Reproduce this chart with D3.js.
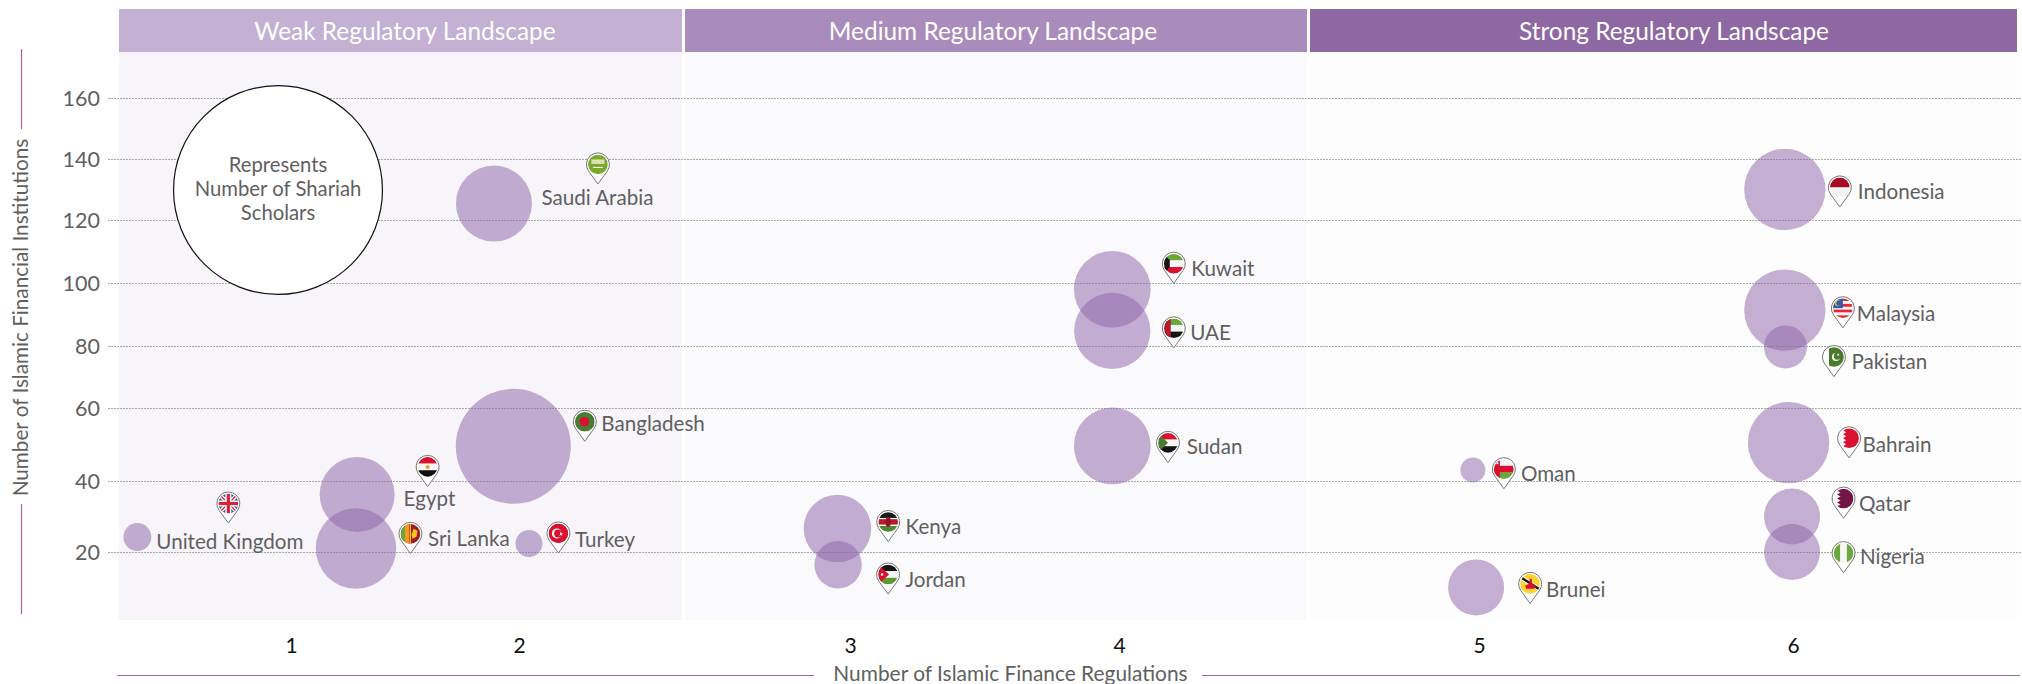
<!DOCTYPE html>
<html><head><meta charset="utf-8">
<script src="https://cdn.jsdelivr.net/npm/d3@7"></script>
<style>
html,body{margin:0;padding:0;background:#fff}
svg{display:block}
text{font-family:Lato,"Open Sans",sans-serif}
</style></head><body><svg id="c" width="2022" height="684"></svg>
<script>
// ---- data ----
const countries = ["United Kingdom","Egypt","Sri Lanka","Saudi Arabia","Bangladesh","Turkey","Kenya","Jordan","Kuwait","UAE","Sudan","Oman","Brunei","Indonesia","Malaysia","Pakistan","Bahrain","Qatar","Nigeria"];
const regulations = [0.33,1.29,1.285,1.89,1.975,2.03,2.962,2.964,3.975,3.975,3.975,4.983,4.992,5.974,5.974,5.976,5.986,5.997,5.997];
const institutions = [24.2,36.2,21,125.4,49.5,22.4,26.6,16.4,98,84.8,49.6,43,10,130,91.4,79.7,50.5,30,20];
const scholars = [5.9,42.5,49,43.7,100,5.5,34.5,17,44.5,44,44.5,4.7,23.7,50,50,14,50,23.7,23.7];
const yTicks = [20,40,60,80,100,120,140,160];
const xTicks = [1,2,3,4,5,6];
const bandNames = ["Weak Regulatory Landscape","Medium Regulatory Landscape","Strong Regulatory Landscape"];
const legendLines = ["Represents","Number of Shariah","Scholars"];
const legendValue = 330;
const xTitle = "Number of Islamic Finance Regulations";
const yTitle = "Number of Islamic Financial Institutions";

// ---- layout ----
const bands = [
 {x0:119,x1:682,head:"#c4b0d3",bg:"#f7f5fa",tx:405},
 {x0:685,x1:1307,head:"#a98cbb",bg:"#faf9fc",tx:993},
 {x0:1310,x1:2017,head:"#8d68a3",bg:"#fdfdfd",tx:1674}];
// pin tip and label start, pixel offsets from the matching bubble centre
const place = {
 "United Kingdom":{p:[91,-14],l:[19,12]},
 "Egypt":{p:[70.5,-8],l:[46.5,12]},
 "Sri Lanka":{p:[54.5,5],l:[72,-2.5]},
 "Saudi Arabia":{p:[104,-19.5],l:[47.5,1]},
 "Bangladesh":{p:[71.5,-5],l:[88,-15.5]},
 "Turkey":{p:[29.5,9.5],l:[46,3.5]},
 "Kenya":{p:[50.8,13],l:[68.2,5.3]},
 "Jordan":{p:[50,29.3],l:[67.4,22.5]},
 "Kuwait":{p:[61.5,-6],l:[79,-13]},
 "UAE":{p:[61.5,17],l:[78,9]},
 "Sudan":{p:[55.7,16.5],l:[74.4,8.5]},
 "Oman":{p:[31,18.7],l:[48,11]},
 "Brunei":{p:[54,16],l:[70,10]},
 "Indonesia":{p:[55,17.5],l:[73,9.5]},
 "Malaysia":{p:[58,17.7],l:[72,11]},
 "Pakistan":{p:[48.5,29.7],l:[66,22]},
 "Bahrain":{p:[60.5,15.2],l:[74,9.5]},
 "Qatar":{p:[51.5,1.7],l:[67,-6]},
 "Nigeria":{p:[51.5,20.7],l:[68,11.7]}
};

const x = d3.scaleLinear().domain([0.25,1,2,3,4,5,6,6.71]).range([119,291,519,850,1119,1479,1793,2017]);
const y = d3.scaleLinear().domain([1.1,20,40,60,80,100,120,140,160,175]).range([619,552,481,408,346,283,220,159,98,52]);
const r = d3.scaleSqrt().domain([0,100]).range([0,57.5]);

const svg = d3.select("#c");

// backgrounds and headers
svg.selectAll("rect.bg").data(bands).join("rect").attr("class","bg")
 .attr("x",d=>d.x0).attr("y",52).attr("width",d=>d.x1-d.x0).attr("height",568).attr("fill",d=>d.bg);
svg.selectAll("rect.head").data(bands).join("rect").attr("class","head")
 .attr("x",d=>d.x0).attr("y",9).attr("width",d=>d.x1-d.x0).attr("height",43).attr("fill",d=>d.head);
svg.selectAll("text.head").data(bands).join("text").attr("class","head")
 .attr("x",d=>d.tx).attr("y",40).attr("text-anchor","middle").attr("fill","#fff")
 .attr("font-size",24.4).text((d,i)=>bandNames[i]);

// axes
const gy = svg.append("g").attr("transform","translate(108,0)")
 .call(d3.axisLeft(y).tickValues(yTicks).tickSize(-1914).tickPadding(8));
gy.select(".domain").remove();
gy.selectAll("line").attr("stroke","#a8a8a8").attr("stroke-width",1).attr("stroke-dasharray","2 1");
gy.selectAll("text").attr("font-size",21.5).attr("fill","#5f5f5f").attr("dy","0.37em");

const gx = svg.append("g").attr("transform","translate(0,619)")
 .call(d3.axisBottom(x).tickValues(xTicks).tickFormat(d3.format("d")).tickSize(0).tickPadding(19));
gx.select(".domain").remove();
gx.selectAll("text").attr("font-size",21).attr("fill","#111");

// axis titles with rules
const ruleC = "#a0669c";
svg.append("text").attr("x",1010.5).attr("y",681).attr("text-anchor","middle").attr("font-size",20.9).attr("fill","#5f5f5f").text(xTitle);
[[117,814],[1202,2020]].forEach(s=>svg.append("line").attr("x1",s[0]).attr("x2",s[1]).attr("y1",675.5).attr("y2",675.5).attr("stroke",ruleC).attr("stroke-width",1.2));
svg.append("text").attr("transform","translate(28,317.5) rotate(-90)").attr("text-anchor","middle").attr("font-size",20.7).attr("fill","#5f5f5f").text(yTitle);
[[49,129],[504,614]].forEach(s=>svg.append("line").attr("x1",21.5).attr("x2",21.5).attr("y1",s[0]).attr("y2",s[1]).attr("stroke",ruleC).attr("stroke-width",1.2));

// legend
svg.append("circle").attr("cx",278).attr("cy",190).attr("r",r(legendValue)).attr("fill","#fff").attr("stroke","#111").attr("stroke-width",1.2);
legendLines.forEach((t,i)=>svg.append("text").attr("x",278).attr("y",171.5+i*24).attr("text-anchor","middle").attr("font-size",20.3).attr("fill","#5f5f5f").text(t));

// bubbles
const rows = countries.map((name,i)=>({name,reg:regulations[i],inst:institutions[i],sch:scholars[i]}));
svg.selectAll("circle.b").data(rows).join("circle").attr("class","b")
 .attr("cx",d=>x(d.reg)).attr("cy",d=>y(d.inst)).attr("r",d=>r(d.sch))
 .attr("fill","#8f66a8").attr("fill-opacity",0.52);

// flags: drawn in a -10..10 box
const R=(g,a,b,w,h,c)=>g.append("rect").attr("x",a).attr("y",b).attr("width",w).attr("height",h).attr("fill",c);
const P=(g,pts,c)=>g.append("polygon").attr("points",pts).attr("fill",c);
const C=(g,a,b,rr,c)=>g.append("circle").attr("cx",a).attr("cy",b).attr("r",rr).attr("fill",c);
const H=(g,cols)=>cols.forEach((c,i)=>R(g,-10,-10+i*20/cols.length,20,20/cols.length+.2,c));
const V=(g,cols)=>cols.forEach((c,i)=>R(g,-10+i*20/cols.length,-10,20/cols.length+.2,20,c));
const serr=(n,xa,xb)=>{let s=[[xa,-10]];for(let i=0;i<n;i++){const h=20/n;s.push([xb,-10+i*h+h/2]);s.push([xa,-10+(i+1)*h]);}return [...s,[10,10],[10,-10]].join(" ");};
const flags={
 "United Kingdom":g=>{R(g,-10,-10,20,20,"#2a56a6");
  g.append("path").attr("d","M-10-10L10 10M10-10L-10 10").attr("stroke","#fff").attr("stroke-width",4);
  g.append("path").attr("d","M-10-10L10 10M10-10L-10 10").attr("stroke","#d8213a").attr("stroke-width",1.3);
  R(g,-10,-3,20,6,"#fff");R(g,-3,-10,6,20,"#fff");R(g,-10,-1.6,20,3.2,"#d8213a");R(g,-1.6,-10,3.2,20,"#d8213a");},
 "Egypt":g=>{H(g,["#d9102f","#f6f6f6","#111"]);C(g,0,0,2,"#f0a020");},
 "Sri Lanka":g=>{R(g,-10,-10,20,20,"#9c1a2c");R(g,-10,-10,4.5,20,"#6aa83a");R(g,-5.5,-10,4.5,20,"#f79a1e");R(g,-.5,-10,1,20,"#f5c21b");P(g,"3,-5 7,-3 6,3 2,5 1,1","#f5c21b");},
 "Saudi Arabia":g=>{R(g,-10,-10,20,20,"#7aa92b");R(g,-6.5,-5,13,4.5,"#d6e3b5");R(g,-5,2.5,10,1,"#fff");},
 "Bangladesh":g=>{R(g,-10,-10,20,20,"#4b7a34");C(g,-.5,0,4.8,"#d9102f");},
 "Turkey":g=>{R(g,-10,-10,20,20,"#d9102f");C(g,-1.5,0,5,"#fff");C(g,-.3,0,4,"#d9102f");P(g,"2,-2 3,0 5,-.5 3.2,1 4,2.8 2.5,1.3 1,2.5 1.7,.7","#fff");},
 "Kenya":g=>{R(g,-10,-10,20,6,"#1a1a1a");R(g,-10,-4,20,1.2,"#fff");R(g,-10,-2.8,20,5.6,"#b8192d");R(g,-10,2.8,20,1.2,"#fff");R(g,-10,4,20,6,"#4b8a35");
  g.append("ellipse").attr("rx",2.6).attr("ry",5).attr("fill","#9b1020");},
 "Jordan":g=>{H(g,["#151515","#f6f6f6","#5a9a32"]);P(g,"-10,-10 1,0 -10,10","#d9102f");C(g,-6,0,1.2,"#fff");},
 "Kuwait":g=>{H(g,["#6aa83a","#f6f6f6","#d9102f"]);P(g,"-10,-10 -4,-3.4 -4,3.4 -10,10","#151515");},
 "UAE":g=>{H(g,["#6aa83a","#f6f6f6","#151515"]);R(g,-10,-10,7,20,"#b81a2f");},
 "Sudan":g=>{H(g,["#d9102f","#f6f6f6","#151515"]);P(g,"-10,-10 0,0 -10,10","#4b7a34");},
 "Oman":g=>{H(g,["#f2f2f2","#d9102f","#6aa83a"]);R(g,-10,-10,6,20,"#d9102f");R(g,-7.5,-7,2,2,"#f2f2f2");},
 "Brunei":g=>{R(g,-10,-10,20,20,"#fcd22f");g.append("path").attr("d","M-10-7L10 6").attr("stroke","#fff").attr("stroke-width",4.2);g.append("path").attr("d","M-10-7L10 6").attr("stroke","#111").attr("stroke-width",2.4);P(g,"-.5,-5 1.5,-5 2,0 6,3 4,5 -4,5 -5,2 -1,0","#d9102f");},
 "Indonesia":g=>{H(g,["#a80a24","#f2f2f2"]);},
 "Malaysia":g=>{H(g,["#e5283c","#f6f6f6","#e5283c","#f6f6f6","#e5283c","#f6f6f6","#e5283c"]);R(g,-10,-10,10,10,"#2a5db0");C(g,-5,-5,3,"#f5c21b");C(g,-4,-5,2.5,"#2a5db0");},
 "Pakistan":g=>{R(g,-10,-10,20,20,"#fff");R(g,-5,-10,15,20,"#4b7a2c");C(g,2,0,4,"#fff");C(g,3.2,-.8,3.4,"#4b7a2c");C(g,4.2,-2.4,1,"#fff");},
 "Bahrain":g=>{R(g,-10,-10,20,20,"#f6f6f6");P(g,serr(5,-3,-6),"#d9102f");},
 "Qatar":g=>{R(g,-10,-10,20,20,"#f6f6f6");P(g,serr(5,-3,-6.5),"#731545");},
 "Nigeria":g=>{V(g,["#6aa83a","#f6f6f6","#6aa83a"]);}
};

// pins
const defs = svg.append("defs");
defs.append("clipPath").attr("id","flagClip").append("circle").attr("r",9.8);
const headR = 11.5, headY = -19.6;
const a = Math.acos(headR/(-headY));
const tx = headR*Math.sin(a), ty = headY+headR*Math.cos(a);
const pinPath = `M0 0L${-tx} ${ty}A${headR} ${headR} 0 1 1 ${tx} ${ty}Z`;
rows.forEach(d=>{
 const q=place[d.name], cx=x(d.reg), cy=y(d.inst);
 const g=svg.append("g").attr("transform",`translate(${cx+q.p[0]},${cy+q.p[1]})`);
 g.append("path").attr("d",pinPath).attr("fill","#fff").attr("stroke","#777").attr("stroke-width",1);
 const f=g.append("g").attr("transform",`translate(0,${headY})`).attr("clip-path","url(#flagClip)");
 flags[d.name](f);
 svg.append("text").attr("x",cx+q.l[0]).attr("y",cy+q.l[1]).attr("font-size",20.6).attr("fill","#5f5f5f").text(d.name);
});
</script></body></html>
